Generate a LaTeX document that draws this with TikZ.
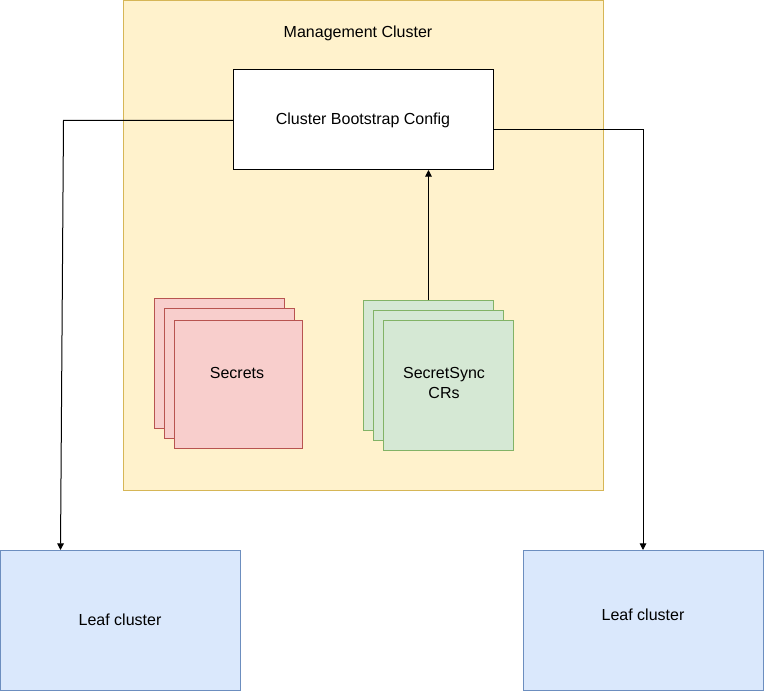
\documentclass[tikz,border=0pt]{standalone}
\usepackage{fontspec}
\setmainfont{Liberation Sans}
\usetikzlibrary{arrows.meta}
\definecolor{mgmtfill}{HTML}{FFF2CC}
\definecolor{mgmtdraw}{HTML}{D6B656}
\definecolor{redfill}{HTML}{F8CECC}
\definecolor{reddraw}{HTML}{B85450}
\definecolor{greenfill}{HTML}{D5E8D4}
\definecolor{greendraw}{HTML}{82B366}
\definecolor{bluefill}{HTML}{DAE8FC}
\definecolor{bluedraw}{HTML}{6C8EBF}
\tikzset{
  box/.style={rectangle, inner sep=0pt, outer sep=0pt, line width=0.75pt, align=center, font=\fontsize{12}{14.5}\selectfont},
  mgmt/.style={box, fill=mgmtfill, draw=mgmtdraw},
  plain/.style={box, fill=white, draw=black},
  redbox/.style={box, fill=redfill, draw=reddraw},
  greenbox/.style={box, fill=greenfill, draw=greendraw},
  bluebox/.style={box, fill=bluefill, draw=bluedraw},
  conn/.style={line width=0.75pt, -{Triangle[length=5pt,width=5pt]}},
  lbl/.style={font=\fontsize{12}{14.5}\selectfont, inner sep=0pt}
}
\begin{document}
\begin{tikzpicture}[x=0.75pt,y=-0.75pt]
\useasboundingbox (0,0) rectangle (764,691);
\node[mgmt, minimum width=480*0.75pt, minimum height=490*0.75pt, anchor=north west] (mgmt) at (123,0.5) {};
\node[lbl] (mgmtlabel) at (358,33) {Management Cluster};
\node[plain, minimum width=260*0.75pt, minimum height=100*0.75pt, anchor=north west] (boot) at (233,70) {Cluster Bootstrap Config};
% secrets stack
\node[redbox, minimum width=130*0.75pt, minimum height=130*0.75pt, anchor=north west] (s1) at (154.3,298.3) {};
\node[redbox, minimum width=130*0.75pt, minimum height=130*0.75pt, anchor=north west] (s2) at (164.3,308.5) {};
\node[redbox, minimum width=128*0.75pt, minimum height=128*0.75pt, anchor=north west] (s3) at (174.3,320.3) {};
\node[lbl] (s3label) at (237,373) {Secrets};
% secretsync stack
\node[greenbox, minimum width=130*0.75pt, minimum height=130*0.75pt, anchor=north west] (g1) at (363.3,300.3) {};
\node[greenbox, minimum width=130*0.75pt, minimum height=130*0.75pt, anchor=north west] (g2) at (373.3,310.3) {};
\node[greenbox, minimum width=130*0.75pt, minimum height=130*0.75pt, anchor=north west] (g3) at (383.3,320.3) {};
\node[lbl, align=center] (g3label) at (444,383) {SecretSync\\CRs};
% leaf clusters
\node[bluebox, minimum width=240*0.75pt, minimum height=140*0.75pt, anchor=north west] (leafL) at (0.5,550) {};
\node[lbl] (leafLlabel) at (120,620) {Leaf cluster};
\node[bluebox, minimum width=240*0.75pt, minimum height=140*0.75pt, anchor=north west] (leafR) at (523,550) {};
\node[lbl] (leafRlabel) at (643,615) {Leaf cluster};
% connectors
\coordinate (bendL) at (63.5,120.5);
\coordinate (bendR) at (643,130);
\coordinate (leafLtop) at (60.5,550);
\coordinate (bootbot) at (428.5,170);
\coordinate (g1top) at (428.5,300.3);
\draw[conn] (boot.west |- bendL) -- (bendL) -- (leafLtop);
\draw[conn] (boot.east |- bendR) -- (bendR) -- (leafR.north -| bendR);
\draw[conn] (g1top) -- (bootbot);
\end{tikzpicture}
\end{document}
